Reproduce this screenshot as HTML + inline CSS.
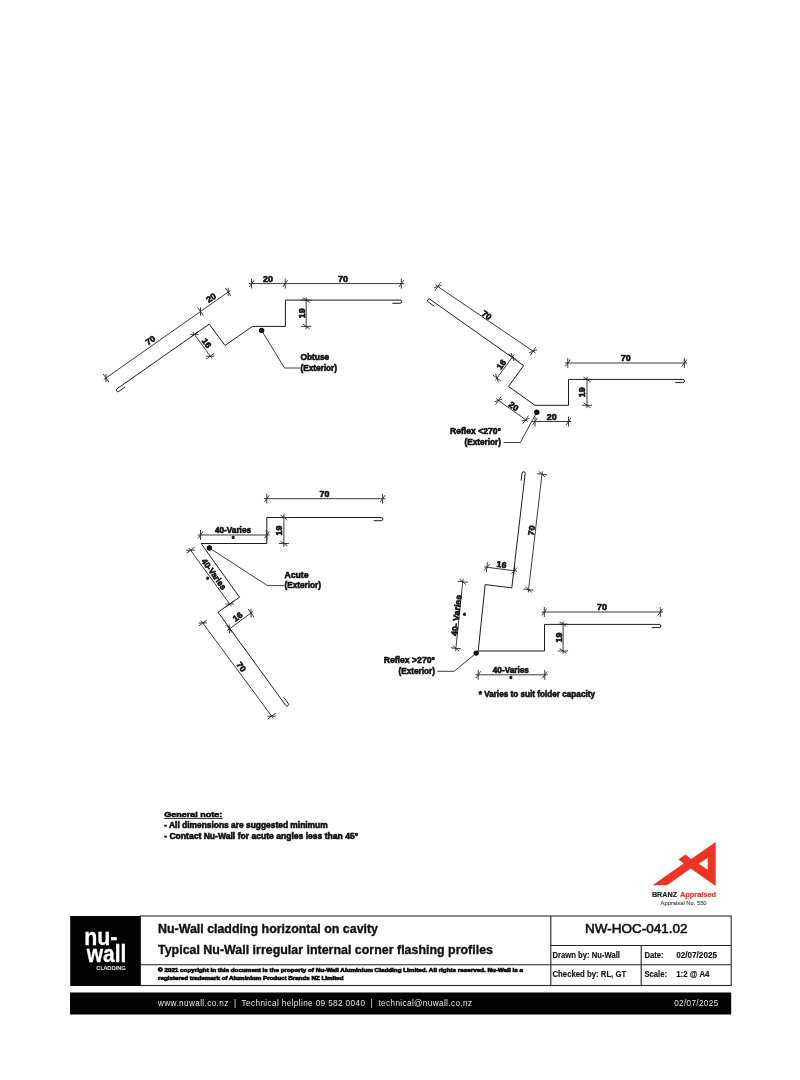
<!DOCTYPE html>
<html lang="en">
<head>
<meta charset="utf-8">
<title>NW-HOC-041.02 Typical Nu-Wall irregular internal corner flashing profiles</title>
<style>
html,body{margin:0;padding:0;background:#fff;}
body{width:800px;height:1080px;overflow:hidden;}
svg{display:block;will-change:transform;font-family:"Liberation Sans",Arial,Helvetica,sans-serif;}
svg text{white-space:pre;}
</style>
</head>
<body>
<svg width="800" height="1080" viewBox="0 0 800 1080">
<rect width="800" height="1080" fill="#fff"/>
<g id="drawing">
<path d="M117 388.8 A1.6 1.6 0 0 0 118.84 391.42 L125.06 387.06 M117 388.8 L209.2 324.2 L225 345.5 L252.4 326.4 L285.4 326.4 L285.4 300.1 L399.9 300.1 A1.6 1.6 0 0 1 399.9 303.3 L392.3 303.3" fill="none" stroke="#1c1c1c" stroke-width="1.0" stroke-linejoin="miter" stroke-linecap="butt"/>
<line x1="103.71" y1="379.61" x2="230.49" y2="290.39" stroke="#262626" stroke-width="0.9"/>
<line x1="103.12" y1="373.91" x2="108.88" y2="382.09" stroke="#262626" stroke-width="0.9"/>
<line x1="106.01" y1="382.2" x2="105.99" y2="373.8" stroke="#262626" stroke-width="0.9"/>
<line x1="197.62" y1="307.41" x2="203.38" y2="315.59" stroke="#262626" stroke-width="0.9"/>
<line x1="200.51" y1="315.7" x2="200.49" y2="307.3" stroke="#262626" stroke-width="0.9"/>
<line x1="225.32" y1="287.91" x2="231.08" y2="296.09" stroke="#262626" stroke-width="0.9"/>
<line x1="228.21" y1="296.2" x2="228.19" y2="287.8" stroke="#262626" stroke-width="0.9"/>
<line x1="192.76" y1="332.13" x2="211.84" y2="358.47" stroke="#262626" stroke-width="0.9"/>
<line x1="198.45" y1="331.47" x2="190.35" y2="337.33" stroke="#262626" stroke-width="0.9"/>
<line x1="190.2" y1="334.47" x2="198.6" y2="334.33" stroke="#262626" stroke-width="0.9"/>
<line x1="214.25" y1="353.27" x2="206.15" y2="359.13" stroke="#262626" stroke-width="0.9"/>
<line x1="206" y1="356.27" x2="214.4" y2="356.13" stroke="#262626" stroke-width="0.9"/>
<line x1="248.8" y1="283.6" x2="404.1" y2="283.6" stroke="#262626" stroke-width="0.9"/>
<line x1="251.6" y1="278.6" x2="251.6" y2="288.6" stroke="#262626" stroke-width="0.9"/>
<line x1="249.19" y1="287.04" x2="254.01" y2="280.16" stroke="#262626" stroke-width="0.9"/>
<line x1="285.2" y1="278.6" x2="285.2" y2="288.6" stroke="#262626" stroke-width="0.9"/>
<line x1="282.79" y1="287.04" x2="287.61" y2="280.16" stroke="#262626" stroke-width="0.9"/>
<line x1="401.3" y1="278.6" x2="401.3" y2="288.6" stroke="#262626" stroke-width="0.9"/>
<line x1="398.89" y1="287.04" x2="403.71" y2="280.16" stroke="#262626" stroke-width="0.9"/>
<line x1="306.2" y1="297.3" x2="306.2" y2="329.2" stroke="#262626" stroke-width="0.9"/>
<line x1="311.2" y1="300.1" x2="301.2" y2="300.1" stroke="#262626" stroke-width="0.9"/>
<line x1="302.76" y1="297.69" x2="309.64" y2="302.51" stroke="#262626" stroke-width="0.9"/>
<line x1="311.2" y1="326.4" x2="301.2" y2="326.4" stroke="#262626" stroke-width="0.9"/>
<line x1="302.76" y1="323.99" x2="309.64" y2="328.81" stroke="#262626" stroke-width="0.9"/>
<g transform="translate(268 278.8) rotate(0)">
<text x="0" y="3" font-size="8.4" font-weight="bold" fill="#111" text-anchor="middle" textLength="9.9" lengthAdjust="spacingAndGlyphs" stroke="#111" stroke-width="0.6">20</text>
</g>
<g transform="translate(343 278.8) rotate(0)">
<text x="0" y="3" font-size="8.4" font-weight="bold" fill="#111" text-anchor="middle" textLength="9.9" lengthAdjust="spacingAndGlyphs" stroke="#111" stroke-width="0.6">70</text>
</g>
<g transform="translate(301.6 313.3) rotate(-90)">
<text x="0" y="3" font-size="8.4" font-weight="bold" fill="#111" text-anchor="middle" textLength="9.9" lengthAdjust="spacingAndGlyphs" stroke="#111" stroke-width="0.6">19</text>
</g>
<g transform="translate(150.2 340.2) rotate(-35)">
<text x="0" y="3" font-size="8.4" font-weight="bold" fill="#111" text-anchor="middle" textLength="9.9" lengthAdjust="spacingAndGlyphs" stroke="#111" stroke-width="0.6">70</text>
</g>
<g transform="translate(211.1 297.7) rotate(-35)">
<text x="0" y="3" font-size="8.4" font-weight="bold" fill="#111" text-anchor="middle" textLength="9.9" lengthAdjust="spacingAndGlyphs" stroke="#111" stroke-width="0.6">20</text>
</g>
<g transform="translate(206.6 343) rotate(55)">
<text x="0" y="3" font-size="8.4" font-weight="bold" fill="#111" text-anchor="middle" textLength="9.9" lengthAdjust="spacingAndGlyphs" stroke="#111" stroke-width="0.6">16</text>
</g>
<circle cx="261.6" cy="330.4" r="2.7" fill="#111"/>
<path d="M261.6 330.4 L284.5 368 L300 368" fill="none" stroke="#262626" stroke-width="0.9" stroke-linejoin="miter" stroke-linecap="butt"/>
<text x="300.5" y="359.5" font-size="8.4" font-weight="bold" fill="#111" textLength="28.7" lengthAdjust="spacingAndGlyphs" stroke="#111" stroke-width="0.6">Obtuse</text>
<text x="300.5" y="370.5" font-size="8.4" font-weight="bold" fill="#111" textLength="36.5" lengthAdjust="spacingAndGlyphs" stroke="#111" stroke-width="0.6">(Exterior)</text>
<path d="M430 299.3 A1.6 1.6 0 0 0 428.15 301.91 L434.36 306.3 M430 299.3 L523.7 365.6 L508.5 386.5 L535 405.3 L568.5 405.3 L568.5 379.4 L682.9 379.4 A1.6 1.6 0 0 1 682.9 382.6 L675.3 382.6" fill="none" stroke="#1c1c1c" stroke-width="1.0" stroke-linejoin="miter" stroke-linecap="butt"/>
<line x1="435.48" y1="284.93" x2="535.42" y2="352.77" stroke="#262626" stroke-width="0.9"/>
<line x1="440.61" y1="282.36" x2="434.99" y2="290.64" stroke="#262626" stroke-width="0.9"/>
<line x1="433.87" y1="287.99" x2="441.73" y2="285.01" stroke="#262626" stroke-width="0.9"/>
<line x1="535.91" y1="347.06" x2="530.29" y2="355.34" stroke="#262626" stroke-width="0.9"/>
<line x1="529.17" y1="352.69" x2="537.03" y2="349.71" stroke="#262626" stroke-width="0.9"/>
<line x1="514.15" y1="354.64" x2="495.35" y2="380.36" stroke="#262626" stroke-width="0.9"/>
<line x1="516.54" y1="359.85" x2="508.46" y2="353.95" stroke="#262626" stroke-width="0.9"/>
<line x1="511.14" y1="352.92" x2="513.86" y2="360.88" stroke="#262626" stroke-width="0.9"/>
<line x1="501.04" y1="381.05" x2="492.96" y2="375.15" stroke="#262626" stroke-width="0.9"/>
<line x1="495.64" y1="374.12" x2="498.36" y2="382.08" stroke="#262626" stroke-width="0.9"/>
<line x1="496.22" y1="398.78" x2="527.88" y2="421.32" stroke="#262626" stroke-width="0.9"/>
<line x1="501.4" y1="396.33" x2="495.6" y2="404.47" stroke="#262626" stroke-width="0.9"/>
<line x1="494.54" y1="401.8" x2="502.46" y2="399" stroke="#262626" stroke-width="0.9"/>
<line x1="528.5" y1="415.63" x2="522.7" y2="423.77" stroke="#262626" stroke-width="0.9"/>
<line x1="521.64" y1="421.1" x2="529.56" y2="418.3" stroke="#262626" stroke-width="0.9"/>
<line x1="532.2" y1="421.5" x2="571.3" y2="421.5" stroke="#262626" stroke-width="0.9"/>
<line x1="535" y1="416.5" x2="535" y2="426.5" stroke="#262626" stroke-width="0.9"/>
<line x1="532.59" y1="424.94" x2="537.41" y2="418.06" stroke="#262626" stroke-width="0.9"/>
<line x1="568.5" y1="416.5" x2="568.5" y2="426.5" stroke="#262626" stroke-width="0.9"/>
<line x1="566.09" y1="424.94" x2="570.91" y2="418.06" stroke="#262626" stroke-width="0.9"/>
<line x1="565" y1="363" x2="687.1" y2="363" stroke="#262626" stroke-width="0.9"/>
<line x1="567.8" y1="358" x2="567.8" y2="368" stroke="#262626" stroke-width="0.9"/>
<line x1="565.39" y1="366.44" x2="570.21" y2="359.56" stroke="#262626" stroke-width="0.9"/>
<line x1="684.3" y1="358" x2="684.3" y2="368" stroke="#262626" stroke-width="0.9"/>
<line x1="681.89" y1="366.44" x2="686.71" y2="359.56" stroke="#262626" stroke-width="0.9"/>
<line x1="587" y1="376.6" x2="587" y2="408.1" stroke="#262626" stroke-width="0.9"/>
<line x1="592" y1="379.4" x2="582" y2="379.4" stroke="#262626" stroke-width="0.9"/>
<line x1="583.56" y1="376.99" x2="590.44" y2="381.81" stroke="#262626" stroke-width="0.9"/>
<line x1="592" y1="405.3" x2="582" y2="405.3" stroke="#262626" stroke-width="0.9"/>
<line x1="583.56" y1="402.89" x2="590.44" y2="407.71" stroke="#262626" stroke-width="0.9"/>
<g transform="translate(486.8 315) rotate(35)">
<text x="0" y="3" font-size="8.4" font-weight="bold" fill="#111" text-anchor="middle" textLength="9.9" lengthAdjust="spacingAndGlyphs" stroke="#111" stroke-width="0.6">70</text>
</g>
<g transform="translate(501.2 364.4) rotate(-54)">
<text x="0" y="3" font-size="8.4" font-weight="bold" fill="#111" text-anchor="middle" textLength="9.9" lengthAdjust="spacingAndGlyphs" stroke="#111" stroke-width="0.6">16</text>
</g>
<g transform="translate(513.7 406.2) rotate(35)">
<text x="0" y="3" font-size="8.4" font-weight="bold" fill="#111" text-anchor="middle" textLength="9.9" lengthAdjust="spacingAndGlyphs" stroke="#111" stroke-width="0.6">20</text>
</g>
<g transform="translate(551.7 416.7) rotate(0)">
<text x="0" y="3" font-size="8.4" font-weight="bold" fill="#111" text-anchor="middle" textLength="9.9" lengthAdjust="spacingAndGlyphs" stroke="#111" stroke-width="0.6">20</text>
</g>
<g transform="translate(625.7 358) rotate(0)">
<text x="0" y="3" font-size="8.4" font-weight="bold" fill="#111" text-anchor="middle" textLength="9.9" lengthAdjust="spacingAndGlyphs" stroke="#111" stroke-width="0.6">70</text>
</g>
<g transform="translate(582.4 392.3) rotate(-90)">
<text x="0" y="3" font-size="8.4" font-weight="bold" fill="#111" text-anchor="middle" textLength="9.9" lengthAdjust="spacingAndGlyphs" stroke="#111" stroke-width="0.6">19</text>
</g>
<circle cx="536.8" cy="412.2" r="2.7" fill="#111"/>
<path d="M536.8 412.2 L520.3 442.5 L503.5 442.5" fill="none" stroke="#262626" stroke-width="0.9" stroke-linejoin="miter" stroke-linecap="butt"/>
<text x="501" y="434.1" font-size="8.4" font-weight="bold" fill="#111" text-anchor="end" textLength="51" lengthAdjust="spacingAndGlyphs" stroke="#111" stroke-width="0.6">Reflex &lt;270°</text>
<text x="501" y="444.6" font-size="8.4" font-weight="bold" fill="#111" text-anchor="end" textLength="36.5" lengthAdjust="spacingAndGlyphs" stroke="#111" stroke-width="0.6">(Exterior)</text>
<path d="M285.7 705.4 A1.6 1.6 0 0 0 288.29 703.52 L283.83 697.37 M285.7 705.4 L218 612.1 L239.5 597.3 L201.1 543.5 L266.8 543.5 L266.8 517.5 L381.2 517.5 A1.6 1.6 0 0 1 381.2 520.7 L373.6 520.7" fill="none" stroke="#1c1c1c" stroke-width="1.0" stroke-linejoin="miter" stroke-linecap="butt"/>
<line x1="264" y1="498.7" x2="385.4" y2="498.7" stroke="#262626" stroke-width="0.9"/>
<line x1="266.8" y1="493.7" x2="266.8" y2="503.7" stroke="#262626" stroke-width="0.9"/>
<line x1="264.39" y1="502.14" x2="269.21" y2="495.26" stroke="#262626" stroke-width="0.9"/>
<line x1="382.6" y1="493.7" x2="382.6" y2="503.7" stroke="#262626" stroke-width="0.9"/>
<line x1="380.19" y1="502.14" x2="385.01" y2="495.26" stroke="#262626" stroke-width="0.9"/>
<line x1="197.7" y1="535" x2="269.6" y2="535" stroke="#262626" stroke-width="0.9"/>
<line x1="200.5" y1="530" x2="200.5" y2="540" stroke="#262626" stroke-width="0.9"/>
<line x1="198.09" y1="538.44" x2="202.91" y2="531.56" stroke="#262626" stroke-width="0.9"/>
<line x1="266.8" y1="530" x2="266.8" y2="540" stroke="#262626" stroke-width="0.9"/>
<line x1="264.39" y1="538.44" x2="269.21" y2="531.56" stroke="#262626" stroke-width="0.9"/>
<line x1="283.9" y1="514" x2="283.9" y2="547" stroke="#262626" stroke-width="0.9"/>
<line x1="288.9" y1="517.5" x2="278.9" y2="517.5" stroke="#262626" stroke-width="0.9"/>
<line x1="280.46" y1="515.09" x2="287.34" y2="519.91" stroke="#262626" stroke-width="0.9"/>
<line x1="288.9" y1="543.5" x2="278.9" y2="543.5" stroke="#262626" stroke-width="0.9"/>
<line x1="280.46" y1="541.09" x2="287.34" y2="545.91" stroke="#262626" stroke-width="0.9"/>
<line x1="188.95" y1="547.93" x2="231.35" y2="606.27" stroke="#262626" stroke-width="0.9"/>
<line x1="194.64" y1="547.26" x2="186.56" y2="553.14" stroke="#262626" stroke-width="0.9"/>
<line x1="186.4" y1="550.27" x2="194.8" y2="550.13" stroke="#262626" stroke-width="0.9"/>
<line x1="233.74" y1="601.06" x2="225.66" y2="606.94" stroke="#262626" stroke-width="0.9"/>
<line x1="225.5" y1="604.07" x2="233.9" y2="603.93" stroke="#262626" stroke-width="0.9"/>
<line x1="227.15" y1="630.56" x2="253.25" y2="611.34" stroke="#262626" stroke-width="0.9"/>
<line x1="226.44" y1="624.87" x2="232.36" y2="632.93" stroke="#262626" stroke-width="0.9"/>
<line x1="229.5" y1="633.1" x2="229.3" y2="624.7" stroke="#262626" stroke-width="0.9"/>
<line x1="248.04" y1="608.97" x2="253.96" y2="617.03" stroke="#262626" stroke-width="0.9"/>
<line x1="251.1" y1="617.2" x2="250.9" y2="608.8" stroke="#262626" stroke-width="0.9"/>
<line x1="201.14" y1="620.75" x2="273.36" y2="718.45" stroke="#262626" stroke-width="0.9"/>
<line x1="206.82" y1="620.03" x2="198.78" y2="625.97" stroke="#262626" stroke-width="0.9"/>
<line x1="198.6" y1="623.11" x2="207" y2="622.89" stroke="#262626" stroke-width="0.9"/>
<line x1="275.72" y1="713.23" x2="267.68" y2="719.17" stroke="#262626" stroke-width="0.9"/>
<line x1="267.5" y1="716.31" x2="275.9" y2="716.09" stroke="#262626" stroke-width="0.9"/>
<g transform="translate(324.5 493.6) rotate(0)">
<text x="0" y="3" font-size="8.4" font-weight="bold" fill="#111" text-anchor="middle" textLength="9.9" lengthAdjust="spacingAndGlyphs" stroke="#111" stroke-width="0.6">70</text>
</g>
<g transform="translate(233 530.2) rotate(0)">
<text x="0" y="3" font-size="8.4" font-weight="bold" fill="#111" text-anchor="middle" textLength="36" lengthAdjust="spacingAndGlyphs" stroke="#111" stroke-width="0.6">40-Varies</text>
</g>
<g transform="translate(233 537.6) rotate(0)">
<text x="0" y="3" font-size="7" font-weight="bold" fill="#111" text-anchor="middle" stroke="#111" stroke-width="0.6">*</text>
</g>
<g transform="translate(279.2 530.5) rotate(-90)">
<text x="0" y="3" font-size="8.4" font-weight="bold" fill="#111" text-anchor="middle" textLength="9.9" lengthAdjust="spacingAndGlyphs" stroke="#111" stroke-width="0.6">19</text>
</g>
<g transform="translate(214 574) rotate(54)">
<text x="0" y="3" font-size="8.4" font-weight="bold" fill="#111" text-anchor="middle" textLength="36" lengthAdjust="spacingAndGlyphs" stroke="#111" stroke-width="0.6">40-Varies</text>
</g>
<g transform="translate(207.2 578.6) rotate(54)">
<text x="0" y="3" font-size="7" font-weight="bold" fill="#111" text-anchor="middle" stroke="#111" stroke-width="0.6">*</text>
</g>
<g transform="translate(237.4 616.6) rotate(-36)">
<text x="0" y="3" font-size="8.4" font-weight="bold" fill="#111" text-anchor="middle" textLength="9.9" lengthAdjust="spacingAndGlyphs" stroke="#111" stroke-width="0.6">16</text>
</g>
<g transform="translate(241.4 666.7) rotate(54)">
<text x="0" y="3" font-size="8.4" font-weight="bold" fill="#111" text-anchor="middle" textLength="9.9" lengthAdjust="spacingAndGlyphs" stroke="#111" stroke-width="0.6">70</text>
</g>
<circle cx="209.4" cy="548" r="2.7" fill="#111"/>
<path d="M209.4 548 L267.5 585.6 L284 585.6" fill="none" stroke="#262626" stroke-width="0.9" stroke-linejoin="miter" stroke-linecap="butt"/>
<text x="284.5" y="577.5" font-size="8.4" font-weight="bold" fill="#111" textLength="24" lengthAdjust="spacingAndGlyphs" stroke="#111" stroke-width="0.6">Acute</text>
<text x="284.5" y="588.2" font-size="8.4" font-weight="bold" fill="#111" textLength="36.5" lengthAdjust="spacingAndGlyphs" stroke="#111" stroke-width="0.6">(Exterior)</text>
<path d="M525.2 473.5 A1.6 1.6 0 0 0 522.02 473.13 L521.14 480.68 M525.2 473.5 L511.8 587.8 L485.2 584.6 L478.2 651 L544.5 651 L544.5 624.4 L659.3 624.4 A1.6 1.6 0 0 1 659.3 627.6 L651.7 627.6" fill="none" stroke="#1c1c1c" stroke-width="1.0" stroke-linejoin="miter" stroke-linecap="butt"/>
<line x1="542.32" y1="471.42" x2="528.28" y2="592.38" stroke="#262626" stroke-width="0.9"/>
<line x1="546.97" y1="474.78" x2="537.03" y2="473.62" stroke="#262626" stroke-width="0.9"/>
<line x1="538.86" y1="471.41" x2="545.14" y2="476.99" stroke="#262626" stroke-width="0.9"/>
<line x1="533.57" y1="590.18" x2="523.63" y2="589.02" stroke="#262626" stroke-width="0.9"/>
<line x1="525.46" y1="586.81" x2="531.74" y2="592.39" stroke="#262626" stroke-width="0.9"/>
<line x1="484.12" y1="566.95" x2="516.98" y2="571.05" stroke="#262626" stroke-width="0.9"/>
<line x1="487.52" y1="562.34" x2="486.28" y2="572.26" stroke="#262626" stroke-width="0.9"/>
<line x1="484.08" y1="570.42" x2="489.72" y2="564.18" stroke="#262626" stroke-width="0.9"/>
<line x1="514.82" y1="565.74" x2="513.58" y2="575.66" stroke="#262626" stroke-width="0.9"/>
<line x1="511.38" y1="573.82" x2="517.02" y2="567.58" stroke="#262626" stroke-width="0.9"/>
<line x1="462.98" y1="579.01" x2="455.62" y2="651.09" stroke="#262626" stroke-width="0.9"/>
<line x1="467.67" y1="582.31" x2="457.73" y2="581.29" stroke="#262626" stroke-width="0.9"/>
<line x1="459.52" y1="579.05" x2="465.88" y2="584.55" stroke="#262626" stroke-width="0.9"/>
<line x1="460.87" y1="648.81" x2="450.93" y2="647.79" stroke="#262626" stroke-width="0.9"/>
<line x1="452.72" y1="645.55" x2="459.08" y2="651.05" stroke="#262626" stroke-width="0.9"/>
<line x1="475.4" y1="674.8" x2="547.6" y2="674.8" stroke="#262626" stroke-width="0.9"/>
<line x1="478.2" y1="669.8" x2="478.2" y2="679.8" stroke="#262626" stroke-width="0.9"/>
<line x1="475.79" y1="678.24" x2="480.61" y2="671.36" stroke="#262626" stroke-width="0.9"/>
<line x1="544.8" y1="669.8" x2="544.8" y2="679.8" stroke="#262626" stroke-width="0.9"/>
<line x1="542.39" y1="678.24" x2="547.21" y2="671.36" stroke="#262626" stroke-width="0.9"/>
<line x1="541.5" y1="612" x2="663.1" y2="612" stroke="#262626" stroke-width="0.9"/>
<line x1="544.3" y1="607" x2="544.3" y2="617" stroke="#262626" stroke-width="0.9"/>
<line x1="541.89" y1="615.44" x2="546.71" y2="608.56" stroke="#262626" stroke-width="0.9"/>
<line x1="660.3" y1="607" x2="660.3" y2="617" stroke="#262626" stroke-width="0.9"/>
<line x1="657.89" y1="615.44" x2="662.71" y2="608.56" stroke="#262626" stroke-width="0.9"/>
<line x1="563.1" y1="621.4" x2="563.1" y2="653.8" stroke="#262626" stroke-width="0.9"/>
<line x1="568.1" y1="624.2" x2="558.1" y2="624.2" stroke="#262626" stroke-width="0.9"/>
<line x1="559.66" y1="621.79" x2="566.54" y2="626.61" stroke="#262626" stroke-width="0.9"/>
<line x1="568.1" y1="651" x2="558.1" y2="651" stroke="#262626" stroke-width="0.9"/>
<line x1="559.66" y1="648.59" x2="566.54" y2="653.41" stroke="#262626" stroke-width="0.9"/>
<g transform="translate(531.4 530.5) rotate(-83.3)">
<text x="0" y="3" font-size="8.4" font-weight="bold" fill="#111" text-anchor="middle" textLength="9.9" lengthAdjust="spacingAndGlyphs" stroke="#111" stroke-width="0.6">70</text>
</g>
<g transform="translate(501.5 564.4) rotate(7)">
<text x="0" y="3" font-size="8.4" font-weight="bold" fill="#111" text-anchor="middle" textLength="9.9" lengthAdjust="spacingAndGlyphs" stroke="#111" stroke-width="0.6">16</text>
</g>
<g transform="translate(456.3 615.4) rotate(-84)">
<text x="0" y="3" font-size="8.4" font-weight="bold" fill="#111" text-anchor="middle" textLength="41.5" lengthAdjust="spacingAndGlyphs" stroke="#111" stroke-width="0.6">40- Varies</text>
</g>
<g transform="translate(464.8 614.3) rotate(-84)">
<text x="0" y="3" font-size="7" font-weight="bold" fill="#111" text-anchor="middle" stroke="#111" stroke-width="0.6">*</text>
</g>
<g transform="translate(510.8 669.7) rotate(0)">
<text x="0" y="3" font-size="8.4" font-weight="bold" fill="#111" text-anchor="middle" textLength="36" lengthAdjust="spacingAndGlyphs" stroke="#111" stroke-width="0.6">40-Varies</text>
</g>
<g transform="translate(510.8 677.5) rotate(0)">
<text x="0" y="3" font-size="7" font-weight="bold" fill="#111" text-anchor="middle" stroke="#111" stroke-width="0.6">*</text>
</g>
<g transform="translate(602 606.7) rotate(0)">
<text x="0" y="3" font-size="8.4" font-weight="bold" fill="#111" text-anchor="middle" textLength="9.9" lengthAdjust="spacingAndGlyphs" stroke="#111" stroke-width="0.6">70</text>
</g>
<g transform="translate(558.5 637.5) rotate(-90)">
<text x="0" y="3" font-size="8.4" font-weight="bold" fill="#111" text-anchor="middle" textLength="9.9" lengthAdjust="spacingAndGlyphs" stroke="#111" stroke-width="0.6">19</text>
</g>
<circle cx="476.2" cy="653.1" r="2.7" fill="#111"/>
<path d="M476.2 653.1 L454.2 671.3 L437.3 671.3" fill="none" stroke="#262626" stroke-width="0.9" stroke-linejoin="miter" stroke-linecap="butt"/>
<text x="435" y="663.2" font-size="8.4" font-weight="bold" fill="#111" text-anchor="end" textLength="51.3" lengthAdjust="spacingAndGlyphs" stroke="#111" stroke-width="0.6">Reflex &gt;270°</text>
<text x="435" y="674" font-size="8.4" font-weight="bold" fill="#111" text-anchor="end" textLength="36.5" lengthAdjust="spacingAndGlyphs" stroke="#111" stroke-width="0.6">(Exterior)</text>
<text x="478.7" y="697.3" font-size="8.4" font-weight="bold" fill="#111" textLength="116.3" lengthAdjust="spacingAndGlyphs" stroke="#111" stroke-width="0.6">* Varies to suit folder capacity</text>
<text x="164.2" y="817.4" font-size="8.0" font-weight="bold" fill="#111" textLength="58" lengthAdjust="spacingAndGlyphs" stroke="#111" stroke-width="0.6">General note:</text>
<line x1="164.2" y1="818.4" x2="222.6" y2="818.4" stroke="#111" stroke-width="0.9"/>
<text x="164.2" y="828.4" font-size="8.4" font-weight="bold" fill="#111" textLength="163.5" lengthAdjust="spacingAndGlyphs" stroke="#111" stroke-width="0.6">- All dimensions are suggested minimum</text>
<text x="164.2" y="838.8" font-size="8.4" font-weight="bold" fill="#111" textLength="194" lengthAdjust="spacingAndGlyphs" stroke="#111" stroke-width="0.6">- Contact Nu-Wall for acute angles less than 45°</text>
</g>
<g id="branz">
<path fill="#ea3424" fill-rule="evenodd" d="M652.6 885.2 L667.1 885.2 L690.7 868.6 L715.7 885.9 L715.7 841.9 L691.1 859 L685.4 854.6 L678.4 859.4 L683.7 863.4 Z M698.6 863.8 L707.7 857.9 L707.7 869.7 Z"/>
<text x="651.9" y="896.9" font-size="6.8" font-weight="bold" fill="#1d1d1d" textLength="25.2" lengthAdjust="spacingAndGlyphs" stroke="#1d1d1d" stroke-width="0.2">BRANZ</text>
<text x="679.9" y="896.9" font-size="6.8" font-weight="bold" fill="#ea3424" textLength="36.2" lengthAdjust="spacingAndGlyphs" stroke="#ea3424" stroke-width="0.2">Appraised</text>
<text x="660.6" y="904.7" font-size="5.7" font-weight="normal" fill="#4a4a4a" textLength="46" lengthAdjust="spacingAndGlyphs" stroke="#4a4a4a" stroke-width="0.12">Appraisal No. 550</text>
</g>
<g id="titleblock">
<rect x="70.2" y="916" width="69.9" height="70" fill="#030303"/>
<rect x="140.5" y="916" width="590.7" height="69.5" fill="none" stroke="#2a2a2a" stroke-width="1.1"/>
<line x1="140.5" y1="964.7" x2="731.2" y2="964.7" stroke="#222" stroke-width="1.1"/>
<line x1="550.8" y1="916" x2="550.8" y2="985.5" stroke="#222" stroke-width="1.1"/>
<line x1="550.8" y1="945.5" x2="731.2" y2="945.5" stroke="#222" stroke-width="1.1"/>
<line x1="641.2" y1="945.5" x2="641.2" y2="985.5" stroke="#222" stroke-width="1.1"/>
<text x="84.2" y="945.4" font-size="24.2" font-weight="bold" fill="#fff" textLength="33.2" lengthAdjust="spacingAndGlyphs" stroke="#fff" stroke-width="0.3">nu-</text>
<text x="86.7" y="961.9" font-size="24.4" font-weight="bold" fill="#fff" textLength="39.6" lengthAdjust="spacingAndGlyphs" stroke="#fff" stroke-width="0.3">wall</text>
<text x="96.3" y="970.1" font-size="5.3" fill="#f2f2f2" stroke="#f2f2f2" stroke-width="0.15" textLength="29.4" lengthAdjust="spacingAndGlyphs">CLADDING</text>
<text x="158" y="932.6" font-size="12.2" font-weight="bold" fill="#111" textLength="220" lengthAdjust="spacingAndGlyphs" stroke="#111" stroke-width="0.35">Nu-Wall cladding horizontal on cavity</text>
<text x="158" y="954.3" font-size="12.2" font-weight="bold" fill="#111" textLength="335" lengthAdjust="spacingAndGlyphs" stroke="#111" stroke-width="0.35">Typical Nu-Wall irregular internal corner flashing profiles</text>
<text x="158" y="972.4" font-size="4.9" font-weight="bold" fill="#111" textLength="365" lengthAdjust="spacingAndGlyphs" stroke="#111" stroke-width="0.6">© 2021 copyright in this document is the property of Nu-Wall Aluminium Cladding Limited. All rights reserved. Nu-Wall is a</text>
<text x="158" y="980" font-size="4.9" font-weight="bold" fill="#111" textLength="185.6" lengthAdjust="spacingAndGlyphs" stroke="#111" stroke-width="0.6">registered trademark of Aluminium Product Brands NZ Limited</text>
<text x="636.2" y="933" font-size="13.6" font-weight="normal" fill="#111" text-anchor="middle" textLength="102.5" lengthAdjust="spacingAndGlyphs" stroke="#111" stroke-width="0.6">NW-HOC-041.02</text>
<text x="552.5" y="957.5" font-size="8.7" font-weight="bold" fill="#111" textLength="67.5" lengthAdjust="spacingAndGlyphs" stroke="#111" stroke-width="0.15">Drawn by: Nu-Wall</text>
<text x="552.5" y="977.3" font-size="8.7" font-weight="bold" fill="#111" textLength="73.7" lengthAdjust="spacingAndGlyphs" stroke="#111" stroke-width="0.15">Checked by: RL, GT</text>
<text x="644.5" y="957.5" font-size="8.7" font-weight="bold" fill="#111" textLength="19" lengthAdjust="spacingAndGlyphs" stroke="#111" stroke-width="0.15">Date:</text>
<text x="676.2" y="957.5" font-size="8.7" font-weight="bold" fill="#111" textLength="40.8" lengthAdjust="spacingAndGlyphs" stroke="#111" stroke-width="0.15">02/07/2025</text>
<text x="644.5" y="977.3" font-size="8.7" font-weight="bold" fill="#111" textLength="22.5" lengthAdjust="spacingAndGlyphs" stroke="#111" stroke-width="0.15">Scale:</text>
<text x="676.2" y="977.3" font-size="8.7" font-weight="bold" fill="#111" textLength="33.3" lengthAdjust="spacingAndGlyphs" stroke="#111" stroke-width="0.15">1:2 @ A4</text>
<rect x="70" y="992.5" width="661.2" height="22" fill="#030303"/>
<text x="158" y="1005.5" font-size="8.2" font-weight="normal" fill="#e6e6e6" textLength="314" lengthAdjust="spacing">www.nuwall.co.nz  |  Technical helpline 09 582 0040  |  technical@nuwall.co.nz</text>
<text x="674.2" y="1005.5" font-size="8.2" font-weight="normal" fill="#e6e6e6" textLength="44" lengthAdjust="spacing">02/07/2025</text>
</g>
</svg>
</body>
</html>
